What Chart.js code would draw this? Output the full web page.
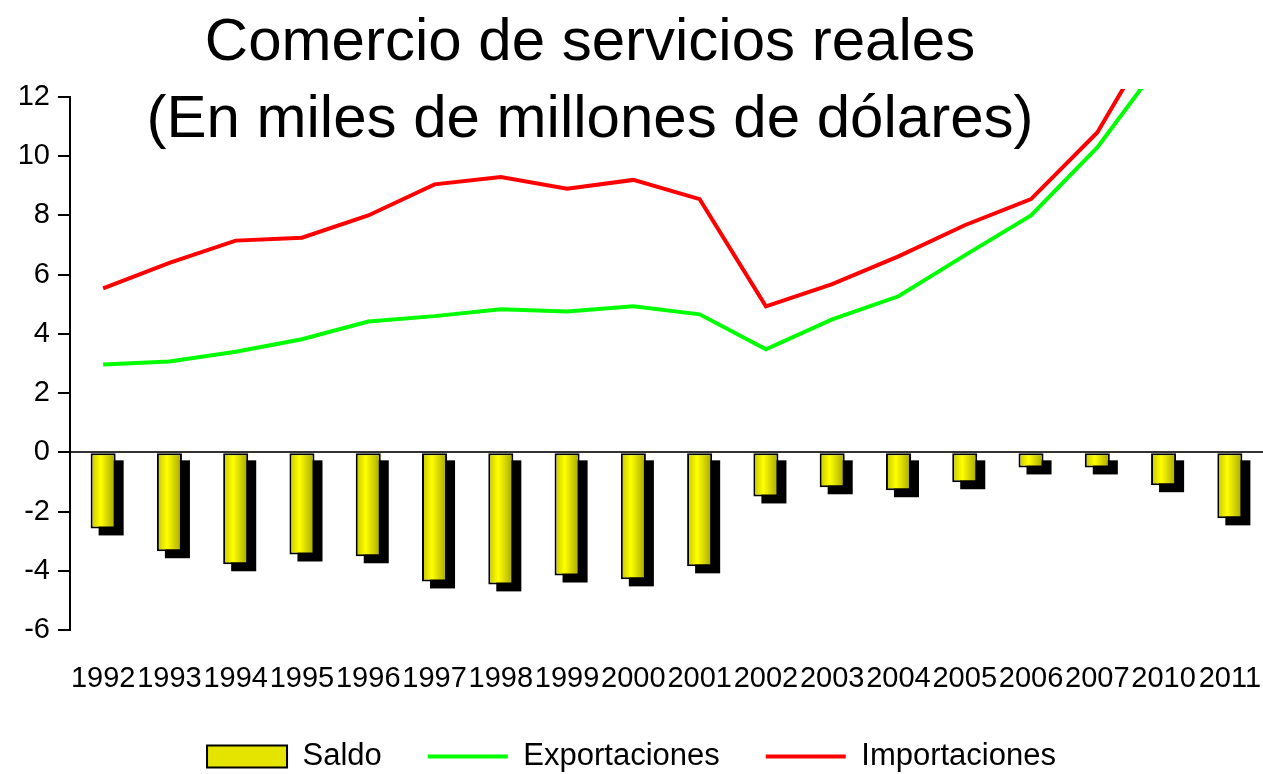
<!DOCTYPE html>
<html>
<head>
<meta charset="utf-8">
<script src="https://cdn.jsdelivr.net/npm/chart.js@4"></script>
<style>
  html, body { margin: 0; padding: 0; background: #fff; }
  #wrap { position: relative; width: 1263px; height: 774px; }
  #title {
    position: absolute; left: 590px; top: 1px; transform: translateX(-50%);
    font-family: "Liberation Sans", Arial, sans-serif; font-size: 60px; line-height: 77px;
    text-align: center; white-space: nowrap; color: #000; pointer-events: none;
  }
</style>
</head>
<body>
<div id="wrap">
  <canvas id="chart"></canvas>
  <div id="title">Comercio de servicios reales<br>(En miles de millones de dólares)</div>
</div>
<script>
const years = ['1992','1993','1994','1995','1996','1997','1998','1999','2000','2001','2002','2003','2004','2005','2006','2007','2010','2011']
const saldo = [-2.57,-3.34,-3.78,-3.45,-3.51,-4.36,-4.46,-4.16,-4.29,-3.85,-1.49,-1.18,-1.28,-1.01,-0.51,-0.51,-1.11,-2.23]
const exportaciones = [2.97,3.07,3.4,3.82,4.42,4.6,4.83,4.76,4.93,4.66,3.48,4.49,5.27,6.65,8.0,10.3,13.3,15.0]
const importaciones = [5.54,6.4,7.15,7.25,8.0,9.05,9.3,8.9,9.2,8.55,4.93,5.68,6.62,7.67,8.55,10.8,14.6,17.2]
const yTicks = [-6,-4,-2,0,2,4,6,8,10,12]

const font = '"Liberation Sans", Arial, sans-serif'
const catPct = 0.42, barPct = 0.9

function barFill(c) {
  const chart = c.chart
  const x = chart.scales && chart.scales.x
  if (!chart.chartArea || !x || c.dataIndex === undefined) return '#e4e400'
  const cx = x.getPixelForValue(c.dataIndex)
  const half = x.width / years.length * catPct * barPct / 2
  const g = chart.ctx.createLinearGradient(cx - half, 0, cx + half, 0)
  g.addColorStop(0, '#c4c400')
  g.addColorStop(0.4, '#ffff00')
  g.addColorStop(1, '#a4a400')
  return g
}

// black drop shadow behind the bars
const barShadow = {
  id: 'barShadow',
  beforeDatasetDraw(chart, args) {
    if (args.index !== 0) return
    const ctx = chart.ctx
    ctx.save()
    ctx.fillStyle = '#000'
    args.meta.data.forEach(el => {
      const p = el.getProps(['x','y','base','width'], true)
      const top = Math.min(p.y, p.base), h = Math.abs(p.y - p.base)
      ctx.fillRect(p.x - p.width/2 + 8, top + 7, p.width, h)
    })
    ctx.restore()
  }
}

const data = {
  labels: years,
  datasets: [{
    type: 'bar',
    label: 'Saldo',
    data: saldo,
    backgroundColor: barFill,
    borderColor: '#000',
    borderWidth: 2,
    borderSkipped: false,
    categoryPercentage: catPct,
    barPercentage: barPct,
    pointStyle: 'rect'
  }, {
    type: 'line',
    label: 'Exportaciones',
    data: exportaciones,
    borderColor: '#00ff00',
    backgroundColor: '#00ff00',
    borderWidth: 4,
    pointRadius: 0,
    pointStyle: 'line',
    tension: 0,
    clip: {left: 5, top: 8, right: 5, bottom: 5}
  }, {
    type: 'line',
    label: 'Importaciones',
    data: importaciones,
    borderColor: '#ff0000',
    backgroundColor: '#ff0000',
    borderWidth: 4,
    pointRadius: 0,
    pointStyle: 'line',
    tension: 0,
    clip: {left: 5, top: 8, right: 5, bottom: 5}
  }]
}

const config = {
  data: data,
  plugins: [barShadow],
  options: {
    responsive: true,
    maintainAspectRatio: false,
    animation: false,
    layout: { padding: { top: 97, right: 0, left: 0, bottom: -8 } },
    plugins: {
      tooltip: { enabled: false },
      title: { display: false },
      legend: {
        position: 'bottom',
        labels: {
          font: { family: font, size: 31 },
          color: '#000',
          usePointStyle: true,
          pointStyleWidth: 80,
          boxHeight: 22,
          padding: 46,
          generateLabels(chart) {
            const items = Chart.defaults.plugins.legend.labels.generateLabels(chart)
            items.forEach(it => {
              if (it.datasetIndex === 0) {
                it.fillStyle = '#e4e400'
                it.strokeStyle = '#000'
                it.lineWidth = 2
              }
            })
            return items
          }
        }
      }
    },
    scales: {
      x: {
        grid: { display: false, drawTicks: false },
        border: { display: false },
        afterFit(scale) {
          scale.paddingLeft = 0
          scale.paddingRight = 0
          scale.height = 65
        },
        ticks: {
          font: { family: font, size: 29 },
          color: '#000',
          padding: 32,
          autoSkip: false,
          maxRotation: 0,
          minRotation: 0
        }
      },
      y: {
        min: -6,
        max: 12,
        afterBuildTicks(scale) { scale.ticks = yTicks.map(v => ({ value: v })) },
        afterFit(scale) { scale.width = 70 },
        border: { display: true, color: '#000', width: 2 },
        grid: {
          color: c => (c.tick && c.tick.value === 0) ? '#333' : 'rgba(0,0,0,0)',
          lineWidth: 2,
          tickColor: '#000',
          tickWidth: 2,
          tickLength: 12
        },
        ticks: {
          font: { family: font, size: 29 },
          color: '#000',
          padding: 8
        }
      }
    }
  }
}

const chart = new Chart(document.querySelector('#chart'), config)
</script>
</body>
</html>
